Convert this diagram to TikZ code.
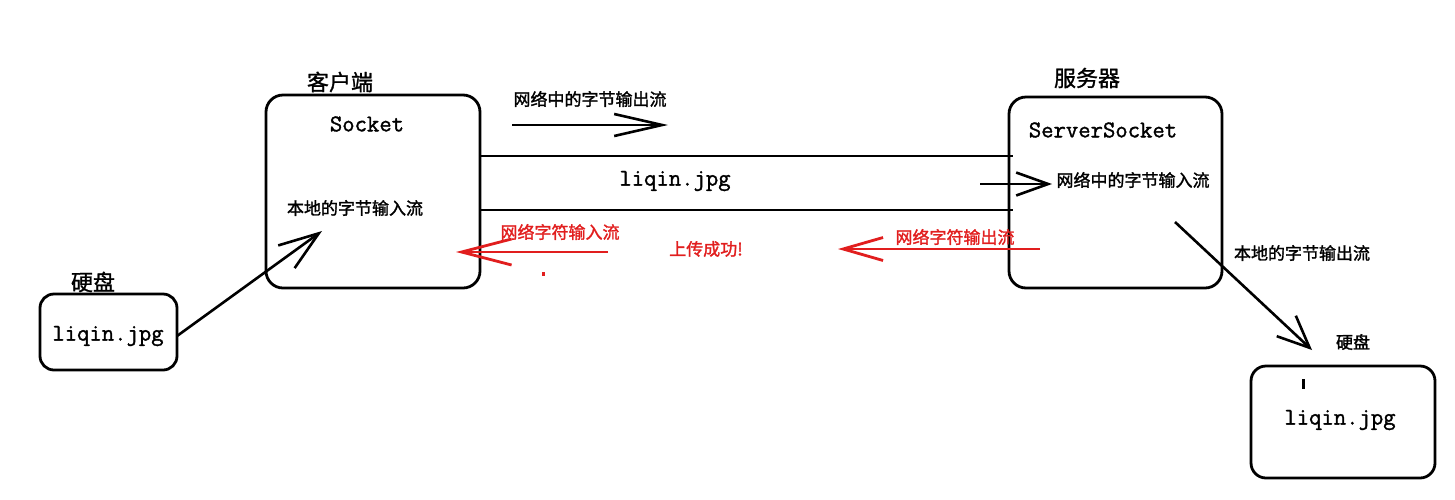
\documentclass[tikz,border=0pt]{standalone}
\usepackage{fontspec}
\newfontfamily\cjk[FakeBold=1.6]{Noto Sans CJK SC}
\newfontfamily\cjkbig[FakeBold=1.2]{Noto Sans CJK SC}
\newfontfamily\monob[FakeBold=1.4]{Latin Modern Mono}
\usetikzlibrary{arrows.meta}
\definecolor{arrred}{RGB}{225,30,30}
\tikzset{
  box/.style={draw, line width=2.8pt, rounded corners=17pt, inner sep=0pt},
  lbl/.style={inner sep=0pt, font=\cjk\fontsize{17}{17}\selectfont},
  big/.style={inner sep=0pt, font=\cjkbig\fontsize{22}{22}\selectfont},
  mono/.style={inner sep=0pt, font=\monob\fontsize{24}{24}\selectfont},
  conn/.style={line width=2.6pt},
  redconn/.style={line width=2.8pt, draw=arrred},
}
\begin{document}
\begin{tikzpicture}[x=1pt,y=-1pt]
\useasboundingbox (0,0) rectangle (1455,499);
% boxes
\node[box, minimum width=214pt, minimum height=193pt] (client) at (373,191.5) {};
\node[box, minimum width=213pt, minimum height=191pt] (server) at (1115.5,192.5) {};
\node[box, rounded corners=14pt, minimum width=137pt, minimum height=76pt] (disk1) at (108.5,332) {};
\node[box, rounded corners=15pt, minimum width=184pt, minimum height=112pt] (disk2) at (1343,422) {};
% labels
\node[big] (tclient) at (340,82) {客户端};
\node[big] (tserver) at (1087,78) {服务器};
\node[big] (tdisk1) at (93,282) {硬盘};
\node[lbl] (tdisk2) at (1353,342) {硬盘};
\node[mono] (socket) at (367,124) {Socket};
\node[mono] (ssocket) at (1103,130) {ServerSocket};
\node[mono] (file1) at (108,336) {liqin.jpg};
\node[mono] (file2) at (1340,420) {liqin.jpg};
\node[mono] (filemid) at (675,181) {liqin.jpg};
\node[lbl] (localin) at (355,208) {本地的字节输入流};
\node[lbl] (netout) at (590,99) {网络中的字节输出流};
\node[lbl] (netin) at (1133,180) {网络中的字节输入流};
\node[lbl] (localout) at (1302,253) {本地的字节输出流};
\node[lbl, text=arrred] (charin) at (560,232) {网络字符输入流};
\node[lbl, text=arrred] (charout) at (955,237) {网络字符输出流};
\node[lbl, text=arrred] (ok) at (706,249) {上传成功!};
% coordinates
\coordinate (c1) at (480,156);
\coordinate (s1) at (1013,156);
\coordinate (c2) at (480,210);
\coordinate (s2) at (1013,210);
\coordinate (a1s) at (512,125);
\coordinate (a1e) at (668,125);
\coordinate (a2s) at (980,184);
\coordinate (a2e) at (1052,184);
\coordinate (r1s) at (1040,249);
\coordinate (r1e) at (838,249);
\coordinate (r2s) at (608,252);
\coordinate (r2e) at (456,252);
\coordinate (d1s) at (177,336);
\coordinate (d1e) at (322,231);
\coordinate (d2s) at (1175,222);
\coordinate (d2e) at (1312,350);
% channel lines
\draw[conn] (c1) -- (s1);
\draw[conn] (c2) -- (s2);
% arrows
\draw[conn, -{Straight Barb[length=48pt,width=22pt,line width=2.6pt]}] (a1s) -- (a1e);
\draw[conn, -{Straight Barb[length=32pt,width=23pt,line width=2.6pt]}] (a2s) -- (a2e);
\draw[redconn, -{Straight Barb[length=40pt,width=23pt,line width=2.8pt]}] (r1s) -- (r1e);
\draw[redconn, -{Straight Barb[length=50pt,width=26pt,line width=2.8pt]}] (r2s) -- (r2e);
\draw[conn, -{Straight Barb[length=40pt,width=28pt,line width=2.6pt]}] (d1s) -- (d1e);
\draw[conn, -{Straight Barb[length=32pt,width=28pt,line width=2.6pt]}] (d2s) -- (d2e);
% small marks
\fill[arrred] (542,272) rectangle (545,276);
\fill (1302,379) rectangle (1305,389);
\end{tikzpicture}
\end{document}
